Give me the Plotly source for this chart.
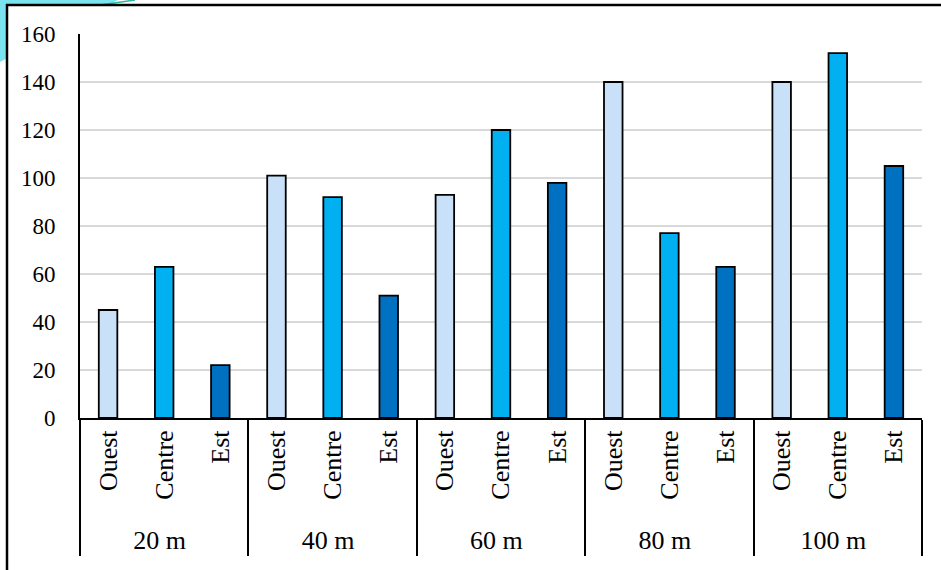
import plotly.graph_objects as go

groups = ["20 m", "40 m", "60 m", "80 m", "100 m"]
regions = ["Ouest", "Centre", "Est"]
ouest = [45, 101, 93, 140, 140]
centre = [63, 92, 120, 77, 152]
est = [22, 51, 98, 63, 105]
colors = {"Ouest": "#C9E1F8", "Centre": "#00B0F0", "Est": "#0070C0"}
y_ticks = [0, 20, 40, 60, 80, 100, 120, 140, 160]

W, H = 941, 570
L, R, T, B = 80, 19, 34, 152
pw, ph = W - L - R, H - T - B

def px(x):
    return (x - L) / pw

def py(y):
    return (H - B - y) / ph

fig = go.Figure()
for name, vals in zip(regions, [ouest, centre, est]):
    fig.add_trace(go.Bar(
        x=[groups, [name] * len(groups)],
        y=vals,
        name=name,
        width=0.33,
        marker=dict(color=colors[name], line=dict(color="black", width=1.8)),
    ))

fig.update_layout(barmode="overlay")

shapes = [
    dict(type="path", xref="paper", yref="paper", layer="below",
         path=f"M {px(0)},{py(0)} L {px(118)},{py(0)} L {px(0)},{py(62)} Z",
         fillcolor="#7BE3F0", line=dict(width=0)),
    dict(type="line", xref="paper", yref="paper", layer="below",
         x0=px(100), y0=py(5), x1=px(135), y1=py(0),
         line=dict(color="#2BB5A0", width=1.5)),
    dict(type="rect", xref="paper", yref="paper", layer="below",
         x0=px(7), y0=py(5), x1=px(960), y1=py(590),
         fillcolor="white", line=dict(color="black", width=2.5)),
]

fig.update_layout(
    width=W, height=H,
    margin=dict(l=L, r=R, t=T, b=B, autoexpand=False),
    paper_bgcolor="white",
    plot_bgcolor="rgba(0,0,0,0)",
    showlegend=False,
    font=dict(family="Liberation Serif", color="black", size=24),
    shapes=shapes,
    xaxis=dict(
        type="multicategory",
        tickangle=-90,
        showline=True, linecolor="black", linewidth=2,
        showdividers=True, dividercolor="black", dividerwidth=1.5,
        showgrid=False,
        ticks="",
        tickfont=dict(size=26, family="Liberation Serif"),
    ),
    yaxis=dict(
        range=[0, 160],
        tickvals=y_ticks,
        showline=True, linecolor="black", linewidth=2,
        showgrid=True, gridcolor="#D9D9D9", gridwidth=1.5,
        zeroline=False,
        ticks="",
        ticklabelstandoff=18,
        tickfont=dict(size=23, family="Liberation Serif"),
    ),
)

fig.write_html("out.html")
